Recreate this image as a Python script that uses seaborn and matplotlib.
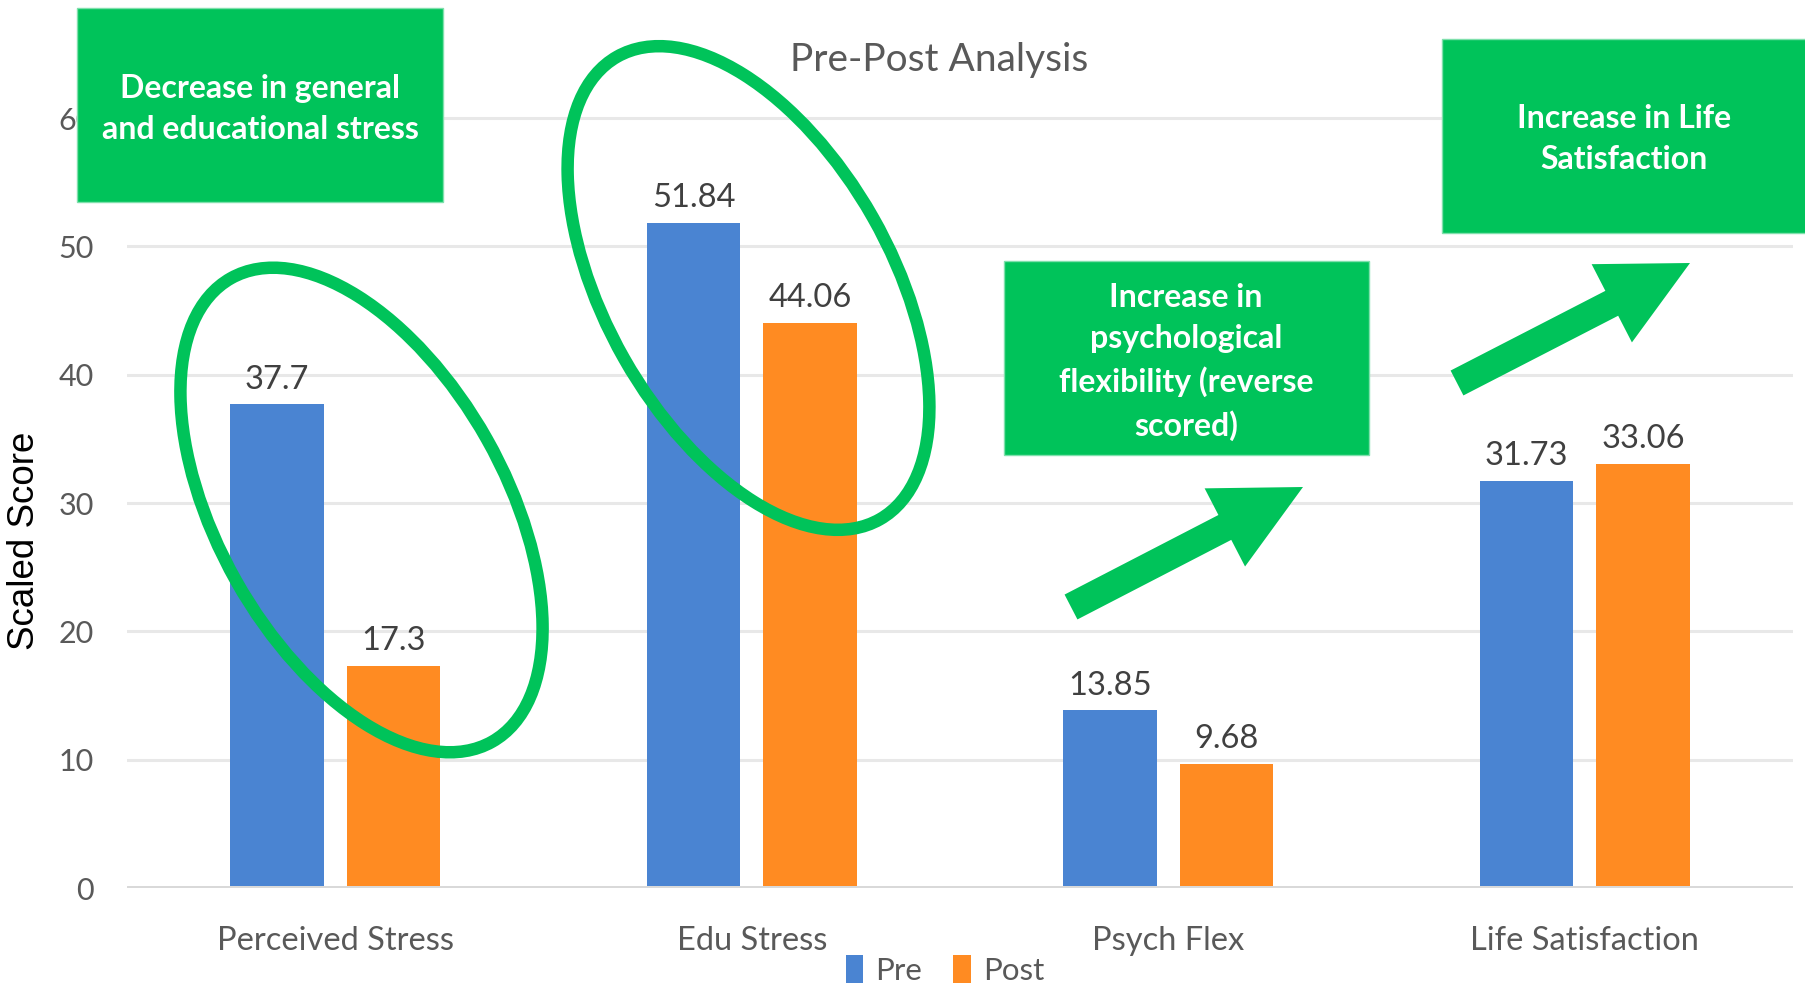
import numpy as np
import pandas as pd
import matplotlib
matplotlib.use("Agg")
import matplotlib.pyplot as plt
import seaborn as sns
from matplotlib.patches import Rectangle, Ellipse, FancyArrow, Patch

# ---- data ----
categories = ["Perceived Stress", "Edu Stress", "Psych Flex", "Life Satisfaction"]
pre_values = [37.7, 51.84, 13.85, 31.73]
post_values = [17.3, 44.06, 9.68, 33.06]
series_names = ["Pre", "Post"]
y_ticks = [0, 10, 20, 30, 40, 50, 60]
title = "Pre-Post Analysis"
y_label = "Scaled Score"
box_texts = ["Decrease in general\nand educational stress",
             "Increase in\npsychological\nflexibility (reverse\nscored)",
             "Increase in Life\nSatisfaction"]

BLUE = "#4A84D2"
ORANGE = "#FF8B22"
GREEN = "#00C35A"
GREY_TXT = "#595959"

df = pd.DataFrame({
    "Measure": categories * 2,
    "Score": pre_values + post_values,
    "Time": [series_names[0]] * len(categories) + [series_names[1]] * len(categories),
})

sns.set_theme(style="white")
plt.rcParams["font.family"] = ["Lato", "DejaVu Sans"]

W, H = 1806, 990
fig = plt.figure(figsize=(W / 100, H / 100), dpi=100)

# axes: x from 127 to 1793 px, y0 line at 888 px, 12.83 px per unit
ymax = 65
px_per_unit = 12.83
ax_left = 127 / W
ax_w = (1793 - 127) / W
ax_bottom = (H - 888) / H
ax_h = ymax * px_per_unit / H
ax = fig.add_axes([ax_left, ax_bottom, ax_w, ax_h])

sns.barplot(data=df, x="Measure", y="Score", hue="Time",
            palette=[BLUE, ORANGE], width=0.56, gap=0.2,
            ax=ax, legend=False, saturation=1, linewidth=0)

ax.set_xlim(-0.5, 3.5)
ax.set_ylim(0, ymax)
ax.set_yticks(y_ticks)
ax.set_yticklabels([str(t) for t in y_ticks])
for s in ax.spines.values():
    s.set_visible(False)
ax.grid(axis="y", color="#E8E8E8", linewidth=2.2, zorder=0)
ax.set_axisbelow(True)
ax.axhline(0, color="#D9D9D9", linewidth=3.6, zorder=1)
ax.tick_params(axis="y", length=0, pad=24, labelsize=22, labelcolor=GREY_TXT)
ax.tick_params(axis="x", length=0, pad=27, labelsize=23.5, labelcolor=GREY_TXT)
ax.set_xlabel("")
ax.set_ylabel(y_label, fontsize=26.5, color="black", family=["Liberation Sans", "DejaVu Sans"])
ax.yaxis.set_label_coords((42 - 127) / (1793 - 127), 0.416)

for cont, vals in zip(ax.containers, [pre_values, post_values]):
    ax.bar_label(cont, labels=[f"{v:g}" for v in vals], padding=7,
                 fontsize=23.5, color="#404040")

# legend
handles = [Patch(facecolor=BLUE, edgecolor="none"), Patch(facecolor=ORANGE, edgecolor="none")]
fig.legend(handles, series_names, loc="center", ncol=2, frameon=False,
           bbox_to_anchor=(945 / W, 1 - 970 / H), fontsize=22.5,
           handlelength=0.55, handleheight=1.0, handletextpad=0.4,
           columnspacing=1.0, labelcolor=GREY_TXT)

# title
fig.text(939 / W, 1 - 60 / H, title, ha="center", va="center",
         fontsize=28, color=GREY_TXT)

# ---- annotation overlay in pixel coordinates ----
ov = fig.add_axes([0, 0, 1, 1], zorder=5)
ov.set_xlim(0, W)
ov.set_ylim(H, 0)
ov.axis("off")
ov.patch.set_alpha(0)

boxes = [(77, 8, 443, 202), (1004, 261, 1369, 455), (1442, 39, 1810, 233)]
text_centers = [(260, 109), (1186, 362), (1624, 139)]
for (x0, y0, x1, y1), (tx, ty), txt in zip(boxes, text_centers, box_texts):
    ov.add_patch(Rectangle((x0, y0), x1 - x0, y1 - y0, facecolor=GREEN,
                           edgecolor="#7FE0AC", linewidth=1.0))
    ov.text(tx, ty, txt, ha="center", va="center", color="white",
            fontsize=23, fontweight="bold", linespacing=1.5)

# ellipses (centre, semi-axes, angle) in pixel space
for cx, cy, a, b, ang in [(361.5, 510, 266, 144, 60.6), (748.5, 288, 266, 143, 60.4)]:
    ov.add_patch(Ellipse((cx, cy), 2 * a, 2 * b, angle=ang, fill=False,
                         edgecolor=GREEN, linewidth=9))

# arrows
for (tx, ty), (hx, hy) in [((1071, 607), (1303, 487)), ((1457, 383), (1690, 263))]:
    ov.add_patch(FancyArrow(tx, ty, hx - tx, hy - ty, width=28, head_width=88,
                            head_length=88, length_includes_head=True,
                            facecolor=GREEN, edgecolor="none"))

fig.savefig("out.png", dpi=100)
